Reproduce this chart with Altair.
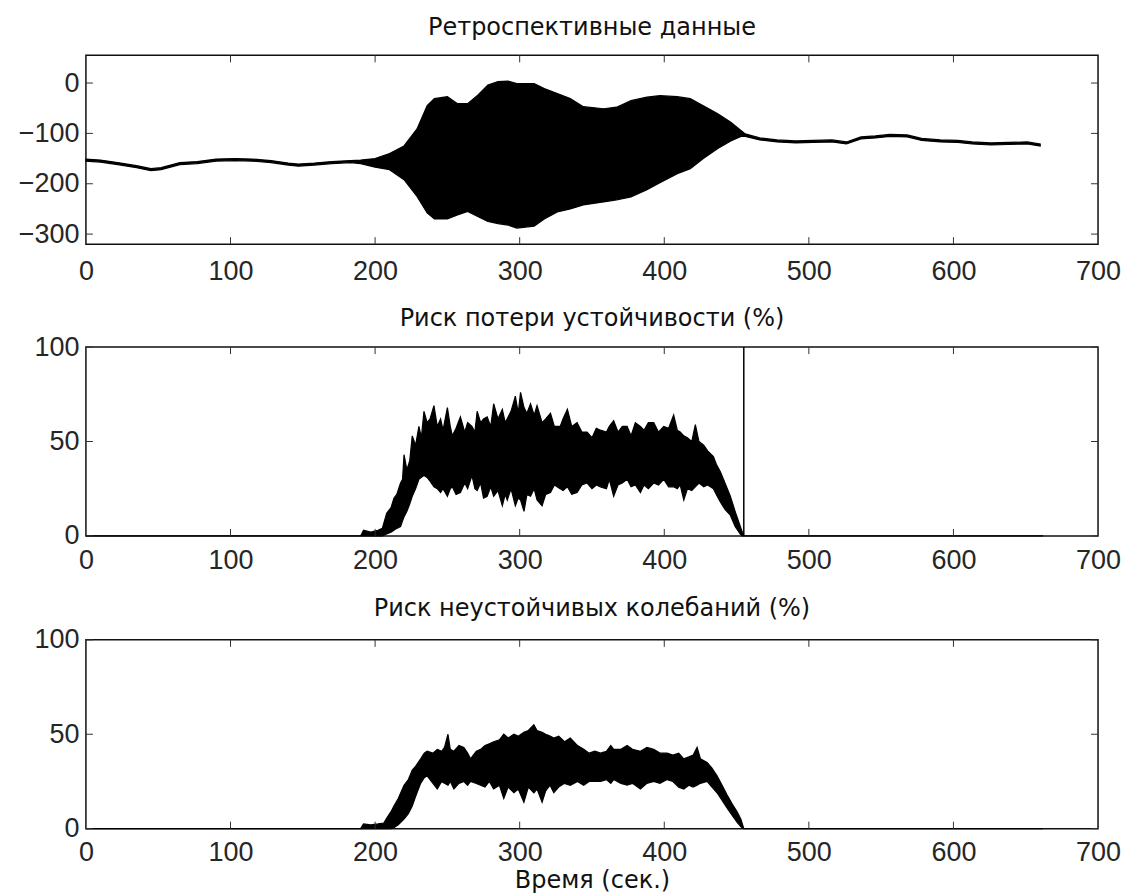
import altair as alt
import pandas as pd

# ---------------- data ----------------
# Panel 1: "Ретроспективные данные" (upper / lower envelope of the dense signal)
t1 = [0, 10, 22, 35, 45, 52, 65, 77, 90, 103, 115, 128, 140, 147, 158, 170, 183, 190,
      200, 210, 220, 229, 236, 241, 250, 257, 264, 271, 278, 285, 292, 298, 310, 317,
      326, 335, 344, 358, 367, 377, 388, 397, 409, 418, 427, 437, 446, 453, 456, 466,
      478, 491, 503, 516, 526, 536, 546, 556, 568, 578, 591, 603, 613, 626, 638, 651, 660]
hi1 = [-151, -153, -158, -164, -170, -168, -158, -156, -151, -150, -151, -154, -159, -161,
       -159, -156, -154, -153, -150, -140, -125, -91, -45, -31, -27, -41, -41, -24, -4, 3,
       4, -1, -1, -11, -21, -31, -47, -51, -48, -35, -28, -25, -27, -31, -45, -61, -78, -94,
       -101, -109, -113, -115, -114, -113, -117, -107, -105, -102, -103, -110, -113, -114,
       -117, -119, -118, -117, -121]
lo1 = [-155, -157, -162, -168, -174, -172, -162, -160, -155, -154, -155, -158, -163, -165,
       -163, -160, -158, -160, -167, -172, -192, -225, -258, -270, -270, -262, -255, -265,
       -275, -279, -282, -288, -284, -270, -256, -250, -242, -236, -232, -226, -212, -198,
       -180, -170, -150, -130, -115, -106, -106, -113, -117, -119, -118, -117, -121, -111,
       -109, -106, -107, -114, -117, -118, -121, -123, -122, -121, -125]

# Panel 2: "Риск потери устойчивости (%)"
t2 = [0, 100, 190, 192, 197, 202, 205, 208, 211, 213, 215, 217.6, 219, 220, 222, 224, 225.7,
      228, 230.3, 232, 233.8, 236, 238, 240.7, 243, 245.3, 247, 250, 252, 253.4, 256, 259,
      262, 264, 267, 269, 270.6, 273, 275, 277.5, 280, 282, 285, 288, 290, 291.4, 294, 297,
      299, 300.6, 303, 305, 307.5, 310, 312, 315.5, 318, 321.3, 324, 328, 330, 333, 336,
      339.7, 343, 346.6, 350, 353, 355.9, 360, 362, 365, 368, 371, 374.3, 377, 380, 383.5,
      386, 389, 392.7, 396, 399.6, 403, 406.5, 409, 411, 413.5, 416, 419, 421.5, 424, 427.3,
      430, 434, 436, 438.8, 442, 445.7, 449, 452.6, 454, 455, 460, 662]
hi2 = [0, 0, 0, 3, 2, 3, 4, 12, 15, 20, 22, 28, 30, 43, 35, 40, 53, 48, 58, 52, 66, 60, 62,
       69, 58, 62, 56, 68, 58, 53, 57, 63, 55, 60, 58, 55, 66, 60, 62, 63, 58, 70, 62, 67,
       60, 62, 66, 74, 65, 76, 68, 65, 70, 64, 69, 60, 62, 65, 58, 58, 62, 67, 58, 60, 55,
       55, 52, 57, 56, 55, 58, 61, 55, 58, 58, 53, 60, 58, 56, 60, 60, 55, 58, 57, 64, 56,
       55, 53, 52, 50, 59, 50, 48, 45, 42, 38, 34, 28, 21, 13, 5, 2, 0, 0, 0]
lo2 = [0, 0, 0, 0, 0, 0, 0, 1, 2, 3, 4, 5, 8, 10, 13, 17, 21, 25, 30, 31, 32, 31, 29, 26,
       25, 23, 25, 21, 25, 26, 22, 23, 28, 25, 32, 25, 24, 28, 20, 21, 26, 21, 24, 16, 22,
       19, 25, 16, 20, 19, 13, 22, 21, 25, 19, 16, 22, 23, 27, 25, 24, 26, 22, 23, 27, 28,
       25, 27, 26, 25, 30, 21, 27, 28, 30, 26, 27, 23, 27, 25, 28, 27, 30, 26, 26, 25, 27,
       19, 25, 24, 26, 28, 26, 27, 25, 22, 18, 14, 11, 5, 1, 0, 0, 0, 0]
# single vertical excursion at the end of the event
jump_t = [455]
jump_lo = [0]
jump_hi = [100]

# Panel 3: "Риск неустойчивых колебаний (%)"
t3 = [0, 100, 190, 192, 197, 202, 206, 208.4, 211, 213, 216, 220, 223, 225.7, 228, 231.5,
      234, 236, 240, 243, 246, 248, 250.4, 252, 254.5, 258, 261.4, 264, 266, 270, 273, 276,
      279, 282, 286, 289, 292, 296, 299, 302.9, 306, 309.8, 312, 315.5, 318, 321, 323.6,
      327, 331, 335, 340, 344.3, 348, 352, 355.9, 360, 363, 365, 370, 374.3, 378, 383.5,
      388, 392.7, 397, 402, 406, 410, 413.5, 417, 420, 422.7, 425, 429.6, 433, 436.5, 440,
      443.4, 447, 450.3, 453, 455, 662]
hi3 = [0, 0, 0, 2.5, 2, 2.5, 3, 6, 9, 12, 16, 23, 26, 31, 33, 37, 40, 41, 40, 42, 41, 43,
       50, 42, 41, 44, 43, 40, 37, 41, 42, 44, 45, 46, 47, 50, 48, 50, 49, 51, 52, 55, 52,
       51, 50, 49, 48, 49, 46, 48, 44, 42, 40, 41, 40, 41, 44, 42, 42, 44, 42, 41, 43, 42,
       40, 40, 39, 40, 37, 38, 39, 43, 37, 35, 32, 28, 23, 18, 13, 9, 5, 0, 0]
lo3 = [0, 0, 0, 0, 0, 0, 0, 0, 0, 0.5, 2, 5, 8, 12, 17, 24, 27, 28, 24, 21, 25, 24, 23, 25,
       21, 24, 25, 23, 25, 24, 23, 22, 25, 21, 23, 16, 22, 19, 21, 14, 22, 19, 21, 14, 20,
       23, 19, 22, 24, 23, 25, 23, 25, 25, 25, 26, 24, 26, 24, 23, 24, 21, 24, 25, 24, 26,
       25, 22, 21, 23, 22, 23, 24, 25, 22, 19, 15, 11, 7, 3.5, 1, 0, 0]

# axis ticks
x_ticks = [0, 100, 200, 300, 400, 500, 600, 700]
y_ticks1 = [-300, -200, -100, 0]
y_ticks23 = [0, 50, 100]

titles = ["Ретроспективные данные", "Риск потери устойчивости (%)",
          "Риск неустойчивых колебаний (%)"]
x_title = "Время (сек.)"

# ---------------- chart ----------------
W, H = 1013, 189
TICK = 7
LABEL_FONT = "Liberation Sans"
LABEL_SIZE = 27
TITLE_FONT = "DejaVu Sans"
TITLE_SIZE = 24


xscale = alt.Scale(domain=[0, 700], nice=False, zero=False)


def panel(df, ydomain, yticks, title, show_xtitle, title_offset, label_pad, extra=None):
    yscale = alt.Scale(domain=ydomain, nice=False, zero=False)
    xaxis = alt.Axis(values=x_ticks, ticks=False, tickSize=0, domain=False, grid=False,
                     labelFont=LABEL_FONT, labelFontSize=LABEL_SIZE, labelColor="#262626",
                     labelPadding=label_pad, labelFlush=False,
                     title=x_title if show_xtitle else None,
                     titleFont=TITLE_FONT, titleFontSize=24,
                     titleFontWeight="normal", titleColor="#111", titlePadding=3)
    yaxis = alt.Axis(values=yticks, ticks=False, tickSize=0, domain=False, grid=False,
                     labelFont=LABEL_FONT, labelFontSize=LABEL_SIZE, labelColor="#262626",
                     labelPadding=7, labelFlush=False, title=None)
    area = alt.Chart(df).mark_area(color="black", stroke="black", strokeWidth=1.2,
                                   interpolate="linear").encode(
        x=alt.X("t:Q", scale=xscale, axis=xaxis),
        y=alt.Y("hi:Q", scale=yscale, axis=yaxis),
        y2="lo:Q",
    )
    xt = pd.DataFrame({"t": x_ticks[1:-1]})
    yt = pd.DataFrame({"hi": yticks})
    tick_style = dict(color="#333", strokeWidth=1)
    xt_bottom = alt.Chart(xt).mark_rule(**tick_style).encode(
        x=alt.X("t:Q", scale=xscale, axis=xaxis), y=alt.value(H), y2=alt.value(H - TICK))
    xt_top = alt.Chart(xt).mark_rule(**tick_style).encode(
        x=alt.X("t:Q", scale=xscale, axis=xaxis), y=alt.value(0), y2=alt.value(TICK))
    yt_left = alt.Chart(yt).mark_rule(**tick_style).encode(
        y=alt.Y("hi:Q", scale=yscale, axis=yaxis), x=alt.value(0), x2=alt.value(TICK))
    yt_right = alt.Chart(yt).mark_rule(**tick_style).encode(
        y=alt.Y("hi:Q", scale=yscale, axis=yaxis), x=alt.value(W), x2=alt.value(W - TICK))
    layers = [area, xt_bottom, xt_top, yt_left, yt_right]
    if extra is not None:
        layers.append(extra(xaxis, yscale, yaxis))
    return alt.layer(*layers).properties(
        width=W, height=H,
        title=alt.TitleParams(title, font=TITLE_FONT, fontSize=TITLE_SIZE,
                              fontWeight="normal", color="#111", anchor="middle",
                              offset=title_offset),
    )


df1 = pd.DataFrame({"t": t1, "hi": hi1, "lo": lo1})
df2 = pd.DataFrame({"t": t2, "hi": hi2, "lo": lo2})
df3 = pd.DataFrame({"t": t3, "hi": hi3, "lo": lo3})
jump_df = pd.DataFrame({"t": jump_t, "hi": jump_hi, "lo": jump_lo})


def jump_layer(xaxis, yscale, yaxis):
    return alt.Chart(jump_df).mark_rule(color="black", strokeWidth=1.5).encode(
        x=alt.X("t:Q", scale=xscale, axis=xaxis),
        y=alt.Y("hi:Q", scale=yscale, axis=yaxis),
        y2="lo:Q",
    )


p1 = panel(df1, [-320, 55], y_ticks1, titles[0], False, 15, 14)
p2 = panel(df2, [0, 100], y_ticks23, titles[1], False, 2, 12, extra=jump_layer)
p3 = panel(df3, [0, 100], y_ticks23, titles[2], True, 5, 11)

chart = alt.vconcat(p1, p2, p3, spacing=21).properties(
    padding={"left": 17, "top": 14, "right": 5, "bottom": 0},
    background="white",
).configure_view(stroke="#111", strokeWidth=1.5)

chart.save("out.html", embed_options={"renderer": "svg", "actions": False})
